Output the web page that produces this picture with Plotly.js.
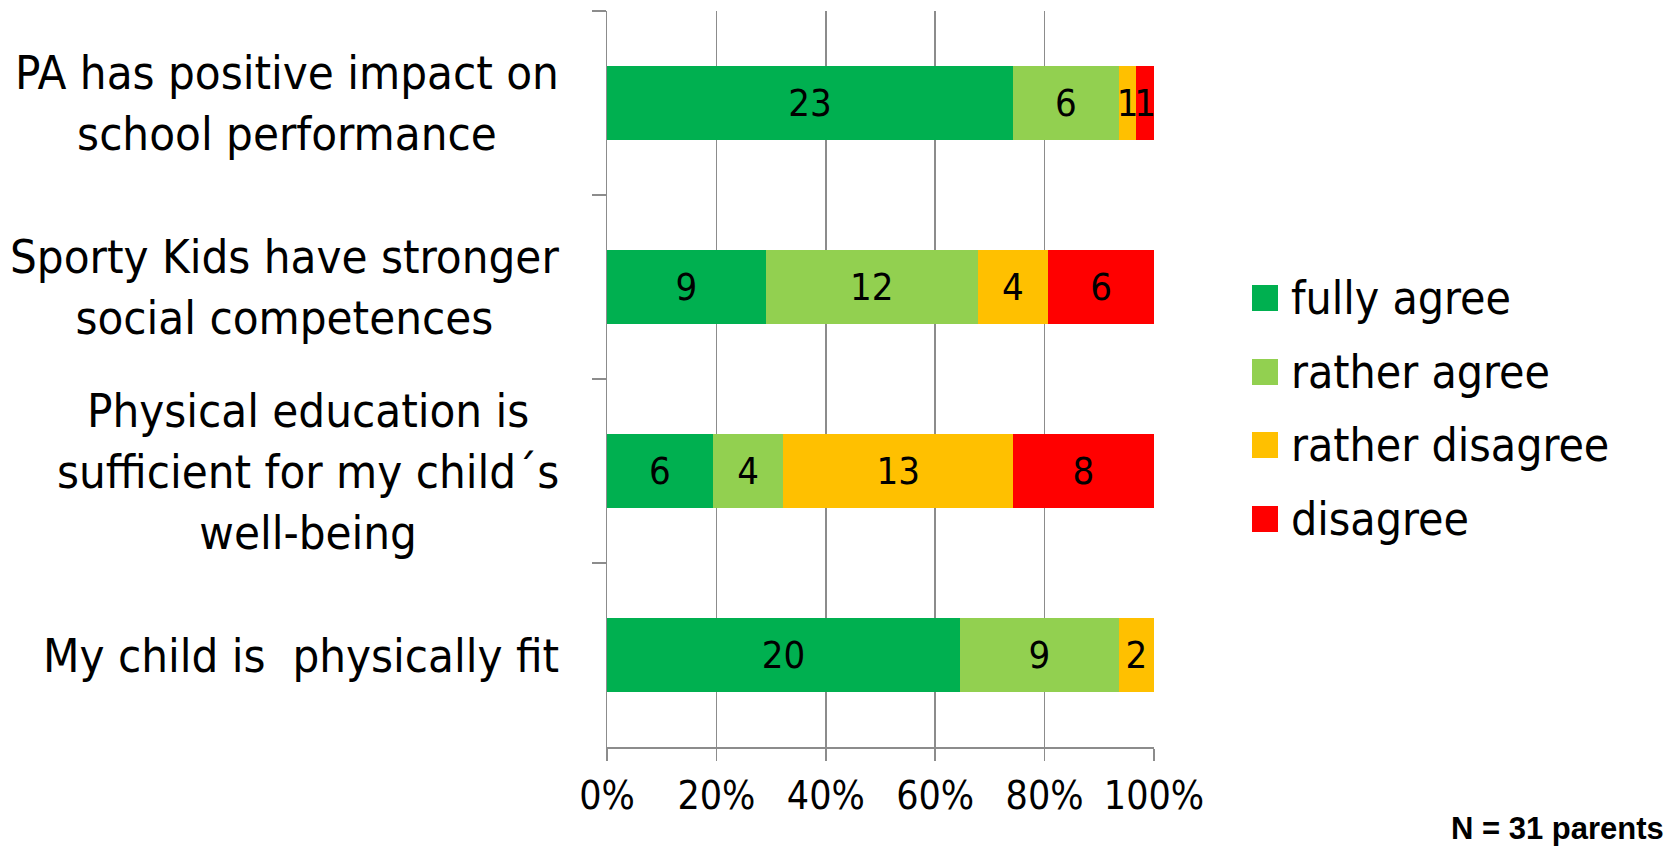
<!DOCTYPE html>
<html>
<head>
<meta charset="utf-8">
<script src="https://cdn.plot.ly/plotly-3.0.1.min.js"></script>
<style>
  html, body { margin: 0; padding: 0; background: #fff; }
  #chart { width: 1670px; height: 847px; }
</style>
</head>
<body>
<div id="chart"></div>
<script>
// Survey statements (top to bottom) and answer counts per statement
const statements = [
  "PA has positive impact on<br>school performance",
  "Sporty Kids have stronger<br>social competences",
  "Physical education is<br>sufficient for my child\u00b4s<br>well-being",
  "My child is \u00a0physically fit"
];
const answerLabels = ["fully agree", "rather agree", "rather disagree", "disagree"];
const answerColors = ["#00B050", "#92D050", "#FFC000", "#FF0000"];
const fullyAgree     = [23, 9, 6, 20];
const ratherAgree    = [6, 12, 4, 9];
const ratherDisagree = [1, 4, 13, 2];
const disagree       = [1, 6, 8, 0];
const xTicks = [0, 20, 40, 60, 80, 100];
const sampleNote = "N = 31 parents";

const series = [fullyAgree, ratherAgree, ratherDisagree, disagree];

const cond = "'DejaVu Sans Condensed', 'DejaVu Sans', sans-serif";

const traces = series.map((vals, i) => ({
  type: "bar",
  orientation: "h",
  name: answerLabels[i],
  y: statements,
  x: vals,
  text: vals.map(v => v > 0 ? String(v) : ""),
  texttemplate: "%{text}",
  textposition: "inside",
  insidetextanchor: "middle",
  textangle: 0,
  constraintext: "none",
  textfont: { family: cond, size: 38, color: "#000" },
  marker: { color: answerColors[i], line: { width: 0 } },
  hoverinfo: "none",
  showlegend: false
}));

// plot area in pixels
const L = 607, R = 1154, T = 11, B = 747;
const W = 1670, H = 847;
const px = x => (x - L) / (R - L);
const py = y => (B - y) / (B - T);

const annotations = [];
const shapes = [];

// statement labels, centred lines, right edge fixed
statements.forEach(s => {
  annotations.push({
    xref: "paper", yref: "y", x: px(561), y: s,
    xanchor: "right", yanchor: "middle", align: "center",
    text: s, showarrow: false,
    font: { family: cond, size: 47, color: "#000" }
  });
});

// legend
const legendRows = [298, 372, 445, 519];
answerLabels.forEach((lab, i) => {
  const cy = legendRows[i];
  shapes.push({
    type: "rect", xref: "paper", yref: "paper",
    x0: px(1252), x1: px(1278), y0: py(cy - 13), y1: py(cy + 13),
    fillcolor: answerColors[i], line: { width: 0 }
  });
  annotations.push({
    xref: "paper", yref: "paper", x: px(1289), y: py(cy),
    xanchor: "left", yanchor: "middle", text: lab, showarrow: false,
    font: { family: cond, size: 46, color: "#000" }
  });
});

annotations.push({
  xref: "paper", yref: "paper", x: px(1666), y: py(829),
  xanchor: "right", yanchor: "middle", text: "<b>" + sampleNote + "</b>",
  showarrow: false,
  font: { family: "'Liberation Sans', Arial, sans-serif", size: 31, color: "#000" }
});

const layout = {
  width: W, height: H,
  margin: { l: L, r: W - R, t: T, b: H - B, pad: 0 },
  paper_bgcolor: "#fff", plot_bgcolor: "#fff",
  barmode: "stack",
  barnorm: "percent",
  bargap: 0.6,
  showlegend: false,
  xaxis: {
    range: [0, 100],
    tickvals: xTicks,
    ticktext: xTicks.map(v => v + "%"),
    showgrid: true, gridcolor: "#8c8c8c", gridwidth: 1.5,
    zeroline: false,
    showline: true, linecolor: "#8c8c8c", linewidth: 1.5,
    ticks: "outside", ticklen: 12, tickwidth: 1.5, tickcolor: "#8c8c8c",
    ticklabelstandoff: 2,
    tickfont: { family: cond, size: 39, color: "#000" },
    fixedrange: true
  },
  yaxis: {
    type: "category",
    autorange: "reversed",
    showticklabels: false,
    showgrid: false, zeroline: false,
    showline: true, linecolor: "#8c8c8c", linewidth: 1.5,
    ticks: "outside", tickson: "boundaries", ticklen: 14, tickwidth: 1.5, tickcolor: "#8c8c8c",
    fixedrange: true
  },
  annotations: annotations,
  shapes: shapes
};

Plotly.newPlot("chart", traces, layout, { displayModeBar: false, staticPlot: true });
</script>
</body>
</html>
